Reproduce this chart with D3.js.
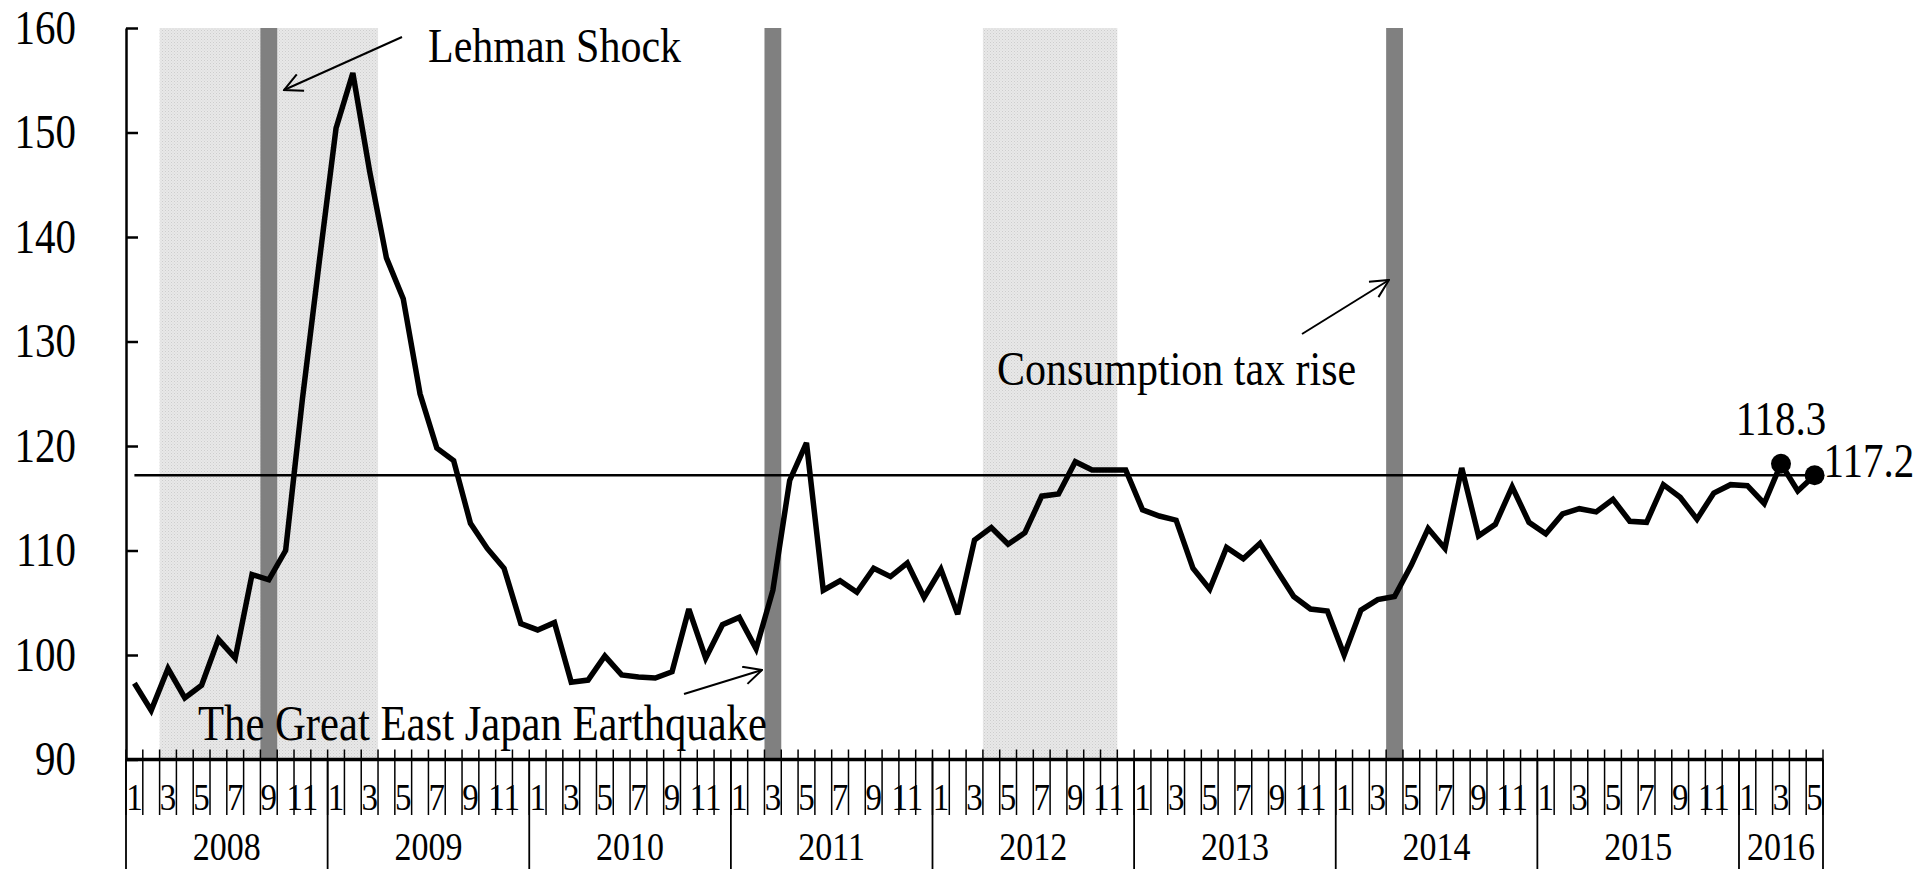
<!DOCTYPE html>
<html>
<head>
<meta charset="utf-8">
<script src="https://cdn.jsdelivr.net/npm/d3@7"></script>
<style>
  html, body { margin: 0; padding: 0; background: #fff; }
  svg { display: block; }
  text { font-family: "Liberation Serif", "Times New Roman", serif; fill: #000; }
</style>
</head>
<body>
<svg id="chart" width="1919" height="869"></svg>
<script>
// ---------------- data ----------------
const years = [2008, 2009, 2010, 2011, 2012, 2013, 2014, 2015, 2016];
const monthsPerYear = [12, 12, 12, 12, 12, 12, 12, 12, 5];
const monthTickLabels = ["1", "3", "5", "7", "9", "11"];
const yTicks = [90, 100, 110, 120, 130, 140, 150, 160];

const values2008 = [97.3, 94.7, 98.7, 95.9, 97.1, 101.5, 99.7, 107.7, 107.2, 110.0, 124.5, 137.6];
const values2009 = [150.4, 155.7, 146.3, 138.0, 134.1, 125.0, 119.8, 118.6, 112.6, 110.2, 108.3, 103.0];
const values2010 = [102.4, 103.1, 97.4, 97.6, 99.9, 98.1, 97.9, 97.8, 98.4, 104.4, 99.7, 102.9];
const values2011 = [103.6, 100.6, 106.2, 116.7, 120.3, 106.2, 107.1, 106.0, 108.3, 107.5, 108.8, 105.5];
const values2012 = [108.2, 103.9, 111.0, 112.2, 110.6, 111.7, 115.2, 115.4, 118.5, 117.7, 117.7, 117.7];
const values2013 = [113.9, 113.3, 112.9, 108.3, 106.3, 110.3, 109.2, 110.7, 108.1, 105.6, 104.4, 104.2];
const values2014 = [100.0, 104.3, 105.3, 105.6, 108.6, 112.1, 110.2, 117.9, 111.4, 112.5, 116.1, 112.7];
const values2015 = [111.6, 113.5, 114.0, 113.7, 114.9, 112.8, 112.7, 116.3, 115.1, 113.0, 115.5, 116.3];
const values2016 = [116.2, 114.5, 118.3, 115.7, 117.2];

const referenceLevel = 117.2;            // horizontal line (latest value)
const labelledPoints = ["2016-03", "2016-05"];
// shaded recession periods (first month, last month)
const recessions = [["2008-03", "2009-03"], ["2012-04", "2012-11"]];
// single-month event bars
const events = ["2008-09", "2011-03", "2014-04"];

(function () {
// ---------------- build table ----------------
const allValues = [values2008, values2009, values2010, values2011, values2012,
                   values2013, values2014, values2015, values2016];
const data = [];
years.forEach((yr, i) => {
  for (let m = 1; m <= monthsPerYear[i]; m++) {
    const key = yr + "-" + String(m).padStart(2, "0");
    data.push({ key, year: yr, month: m, value: allValues[i][m - 1] });
  }
});
const keys = data.map(d => d.key);

// ---------------- layout ----------------
const W = 1919, H = 869;
const mLeft = 126, mRight = 1823, mTop = 28, mBottom = 759.5;
const STRETCH = 1.18;   // text in the original is vertically stretched
const svg = d3.select("#chart");

const x = d3.scaleBand().domain(keys).range([mLeft, mRight]).padding(0);
const y = d3.scaleLinear().domain([90, 160]).range([mBottom, mTop]);
const bw = x.bandwidth();
const cx = k => x(k) + bw / 2;

function putText(g, tx, ty, size, anchor, str) {
  return g.append("text")
    .attr("transform", `translate(${tx},${ty}) scale(${1 / STRETCH},1)`)
    .attr("font-size", size * STRETCH)
    .attr("text-anchor", anchor)
    .text(str);
}

// pattern for shading
const defs = svg.append("defs");
const pat = defs.append("pattern").attr("id", "dots")
  .attr("width", 3).attr("height", 3).attr("patternUnits", "userSpaceOnUse");
pat.append("rect").attr("width", 3).attr("height", 3).attr("fill", "#e8e8e8");
pat.append("rect").attr("width", 1).attr("height", 1).attr("fill", "#cdcdcd");
pat.append("rect").attr("x", 1.5).attr("y", 1.5).attr("width", 1).attr("height", 1).attr("fill", "#d6d6d6");

defs.append("marker").attr("id", "arrow")
  .attr("viewBox", "0 0 20 20").attr("refX", 19).attr("refY", 10)
  .attr("markerWidth", 20).attr("markerHeight", 20)
  .attr("markerUnits", "userSpaceOnUse").attr("orient", "auto")
  .append("path").attr("d", "M1,1 L19,10 L1,19")
  .attr("fill", "none").attr("stroke", "#000").attr("stroke-width", 2);

// recession shading
svg.append("g").selectAll("rect").data(recessions).join("rect")
  .attr("x", d => x(d[0]))
  .attr("width", d => x(d[1]) + bw - x(d[0]))
  .attr("y", y(160)).attr("height", y(90) - y(160))
  .attr("fill", "url(#dots)");

// event bars
svg.append("g").selectAll("rect").data(events).join("rect")
  .attr("x", d => x(d)).attr("width", bw)
  .attr("y", y(160)).attr("height", y(90) - y(160))
  .attr("fill", "#808080");

// reference line
svg.append("line")
  .attr("x1", cx(keys[0])).attr("x2", cx(keys[keys.length - 1]))
  .attr("y1", y(referenceLevel)).attr("y2", y(referenceLevel))
  .attr("stroke", "#000").attr("stroke-width", 2.5);

// data line
svg.append("path").datum(data)
  .attr("fill", "none").attr("stroke", "#000").attr("stroke-width", 5.5)
  .attr("stroke-linejoin", "miter").attr("stroke-miterlimit", 3)
  .attr("d", d3.line().x(d => cx(d.key)).y(d => y(d.value)));

// y axis
const yAxis = d3.axisLeft(y).tickValues(yTicks).tickSizeInner(-12).tickSizeOuter(0).tickPadding(50 * STRETCH);
const gy = svg.append("g").attr("transform", `translate(${mLeft},0)`).call(yAxis);
gy.select(".domain").attr("stroke", "#000").attr("stroke-width", 2.5);
gy.selectAll(".tick line").attr("stroke", "#000").attr("stroke-width", 2.5);
gy.selectAll(".tick text")
  .attr("font-family", "Liberation Serif").attr("font-size", 41 * STRETCH).attr("fill", "#000")
  .attr("transform", `scale(${1 / STRETCH},1)`);

// x axis: month boundaries
const boundaries = keys.map(k => x(k)).concat([mRight]);
const gx = svg.append("g");
gx.selectAll("line.m").data(boundaries).join("line").attr("class", "m")
  .attr("x1", d => d).attr("x2", d => d)
  .attr("y1", mBottom - 10).attr("y2", 815)
  .attr("stroke", "#000").attr("stroke-width", 1.5);
// baseline
gx.append("line").attr("x1", mLeft).attr("x2", mRight).attr("y1", mBottom).attr("y2", mBottom)
  .attr("stroke", "#000").attr("stroke-width", 3.5);
// month labels
data.filter(d => monthTickLabels.includes(String(d.month))).forEach(d => {
  putText(gx, cx(d.key), 810, 33, "middle", String(d.month));
});
// year separators
const yearStarts = years.map(yr => keys.find(k => k.startsWith(yr + "-")));
const yearBounds = yearStarts.map(k => x(k)).concat([mRight]);
gx.selectAll("line.y").data(yearBounds).join("line").attr("class", "y")
  .attr("x1", d => d).attr("x2", d => d)
  .attr("y1", mBottom).attr("y2", H)
  .attr("stroke", "#000").attr("stroke-width", 1.8);
years.forEach((yr, i) => {
  putText(gx, (yearBounds[i] + yearBounds[i + 1]) / 2, 860, 34, "middle", String(yr));
});

// labelled points
const lp = data.filter(d => labelledPoints.includes(d.key));
svg.append("g").selectAll("circle").data(lp).join("circle")
  .attr("cx", d => cx(d.key)).attr("cy", d => y(d.value)).attr("r", 10).attr("fill", "#000");
const lg = svg.append("g");
putText(lg, cx(lp[0].key), y(lp[0].value) - 29, 41, "middle", lp[0].value.toFixed(1));
putText(lg, cx(lp[1].key) + 9, y(lp[1].value) + 2, 41, "start", lp[1].value.toFixed(1));

// annotations
const ann = svg.append("g");
putText(ann, 428, 62, 42, "start", "Lehman Shock");
ann.append("line").attr("x1", 402).attr("y1", 37).attr("x2", 284).attr("y2", 90)
  .attr("stroke", "#000").attr("stroke-width", 2).attr("marker-end", "url(#arrow)");

putText(ann, 198, 740, 42.7, "start", "The Great East Japan Earthquake");
ann.append("line").attr("x1", 684).attr("y1", 694).attr("x2", 762).attr("y2", 670)
  .attr("stroke", "#000").attr("stroke-width", 2).attr("marker-end", "url(#arrow)");

putText(ann, 997, 385, 42, "start", "Consumption tax rise");
ann.append("line").attr("x1", 1302).attr("y1", 334).attr("x2", 1389).attr("y2", 280)
  .attr("stroke", "#000").attr("stroke-width", 2).attr("marker-end", "url(#arrow)");
})();
</script>
</body>
</html>
